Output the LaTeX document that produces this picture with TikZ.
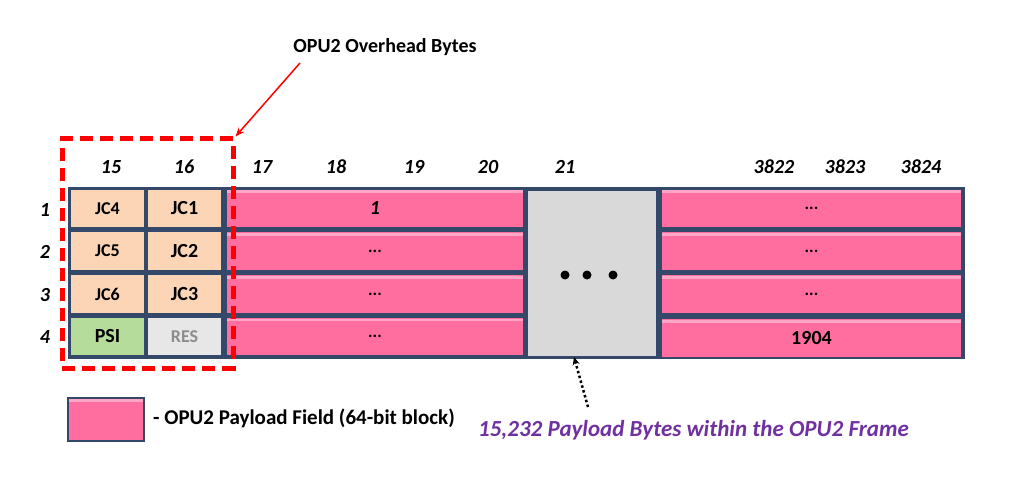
\documentclass[tikz,border=0pt]{standalone}
\usepackage{fontspec}
\setmainfont{Carlito}
\usetikzlibrary{arrows.meta}
\definecolor{pinkc}{HTML}{FF6E9E}
\definecolor{pinkl}{HTML}{FFA6C6}
\definecolor{peach}{HTML}{FBD5B6}
\definecolor{greenc}{HTML}{B5DC9B}
\definecolor{resc}{HTML}{E7E7E7}
\definecolor{greyc}{HTML}{D9D9D9}
\definecolor{navy}{HTML}{34496A}
\definecolor{purp}{HTML}{7030A0}
\definecolor{resfg}{HTML}{8C8C8C}
\newcommand\fsz[1]{\fontsize{#1}{#1}\selectfont}
\begin{document}
\begin{tikzpicture}[x=1pt,y=-1pt,
  cell/.style={draw=navy, line width=1.5pt, inner sep=0pt, outer sep=0pt,
    minimum height=39pt, minimum width=74pt},
  pinkcell/.style={cell, fill=pinkc, font=\fsz{17}\bfseries,
    path picture={\fill[pinkl] ([xshift=1pt,yshift=-1.5pt]path picture bounding box.north west)
      rectangle ([xshift=-1pt,yshift=-4pt]path picture bounding box.north east);}},
  jcsmall/.style={cell, fill=peach, font=\fsz{18}\bfseries},
  jcbig/.style={cell, fill=peach, font=\fsz{20}\bfseries},
  colnum/.style={font=\fsz{20}\bfseries\itshape, inner sep=0pt},
  rownum/.style={font=\fsz{20}\bfseries\itshape, inner sep=0pt},
]
\useasboundingbox (0,0) rectangle (1024,486);
% backdrop of the grid
\fill[navy] (68,187) rectangle (965,359);
% column 15
\node[jcsmall] (c15r1) at (107.5,208.5) {JC4};
\node[jcsmall] (c15r2) at (107.5,251) {JC5};
\node[jcsmall] (c15r3) at (107.5,294) {JC6};
\node[cell, fill=greenc, font=\fsz{20}\bfseries] (c15r4) at (107.5,336.5) {PSI};
% column 16
\node[jcbig] (c16r1) at (184.5,208.5) {JC1};
\node[jcbig] (c16r2) at (184.5,251) {JC2};
\node[jcbig] (c16r3) at (184.5,294) {JC3};
\node[cell, fill=resc, text=resfg, font=\fsz{18}\bfseries] (c16r4) at (184.5,336.5) {RES};
% left payload blocks
\node[pinkcell, minimum width=298pt, font=\fsz{20}\bfseries\itshape] (pl1) at (375,208.5) {1};
\node[pinkcell, minimum width=298pt] (pl2) at (375,251) {...};
\node[pinkcell, minimum width=298pt] (pl3) at (375,294) {...};
\node[pinkcell, minimum width=298pt] (pl4) at (375,336.5) {...};
% grey gap block
\node[cell, fill=greyc, minimum width=130pt, minimum height=167pt] (gap) at (592,273.5) {};
\fill (565,275) circle (4.5pt) (587,275) circle (4.5pt) (613,275) circle (4.5pt);
% right payload blocks
\node[pinkcell, minimum width=301pt] (pr1) at (811.5,208.5) {...};
\node[pinkcell, minimum width=301pt] (pr2) at (811.5,251) {...};
\node[pinkcell, minimum width=301pt] (pr3) at (811.5,294) {...};
\node[pinkcell, minimum width=301pt, font=\fsz{20}\bfseries] (pr4) at (811.5,338) {1904};
% column numbers
\node[colnum] (n15) at (111,167) {15};
\node[colnum] (n16) at (184,167) {16};
\node[colnum] (n17) at (262,167) {17};
\node[colnum] (n18) at (336,167) {18};
\node[colnum] (n19) at (414,167) {19};
\node[colnum] (n20) at (488,167) {20};
\node[colnum] (n21) at (565,167) {21};
\node[colnum] (n3822) at (774,167) {3822};
\node[colnum] (n3823) at (845,167) {3823};
\node[colnum] (n3824) at (921,167) {3824};
% row numbers
\node[rownum] (r1) at (45,210) {1};
\node[rownum] (r2) at (45,252) {2};
\node[rownum] (r3) at (45,295) {3};
\node[rownum] (r4) at (45,337) {4};
% overhead dashed box
\node[draw=red, line width=5pt, dash pattern=on 13pt off 7pt, inner sep=0pt,
  minimum width=171pt, minimum height=229pt] (ohbox) at (147.5,253.5) {};
\node[font=\fsz{20}\bfseries, inner sep=0pt] (title) at (385,47) {OPU2 Overhead Bytes};
\coordinate (astart) at (300,63);
\draw[red, line width=1.5pt, -{Stealth[length=9pt,width=7pt]}] (astart) -- (ohbox.north east);
% legend
\node[draw=navy, line width=2pt, fill=pinkc, inner sep=0pt, minimum width=76pt, minimum height=43pt,
  path picture={\fill[pinkl] ([xshift=1pt,yshift=-1.5pt]path picture bounding box.north west)
      rectangle ([xshift=-1pt,yshift=-4pt]path picture bounding box.north east);}] (legbox) at (105.5,419) {};
\node[font=\fsz{21}\bfseries, anchor=west, inner sep=0pt] (legtext) at (153,418) {- OPU2 Payload Field (64-bit block)};
% payload bytes note
\node[font=\fsz{23}\bfseries\itshape, text=purp, inner sep=0pt] (note) at (693.5,430) {15,232 Payload Bytes within the OPU2 Frame};
\coordinate (dstart) at (588,407);
\draw[line width=2.5pt, dash pattern=on 2.5pt off 2.5pt, -{Stealth[length=8pt,width=7pt]}] (dstart) -- ([xshift=-18pt]gap.south);
\end{tikzpicture}
\end{document}
